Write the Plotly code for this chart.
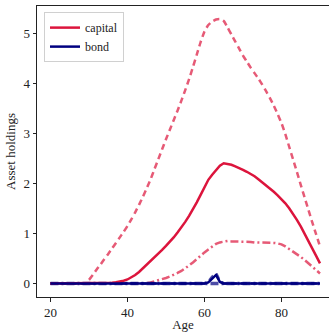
import plotly.graph_objects as go

ages = list(range(20, 91))

capital_median = [0.0]*13 + [  # 20-32
    0.0, 0.005, 0.01, 0.015, 0.025, 0.035, 0.055,              # 33-39
    0.08, 0.12, 0.17, 0.23, 0.30, 0.37, 0.44, 0.51, 0.59, 0.67,  # 40-49
    0.75, 0.83, 0.92, 1.02, 1.12, 1.23, 1.35, 1.48, 1.62, 1.77,  # 50-59
    1.93, 2.07, 2.17, 2.27, 2.35, 2.40, 2.39, 2.37, 2.34, 2.31,  # 60-69
    2.27, 2.23, 2.19, 2.14, 2.08, 2.02, 1.96, 1.90, 1.83, 1.76,  # 70-79
    1.69, 1.60, 1.50, 1.39, 1.27, 1.14, 1.00, 0.85, 0.70, 0.55,  # 80-89
    0.40]                                                        # 90

capital_upper = [0.0]*10 + [  # 20-29
    0.07, 0.17, 0.28, 0.38, 0.49, 0.59, 0.70, 0.81, 0.92, 1.03,  # 30-39
    1.15, 1.28, 1.42, 1.57, 1.73, 1.90, 2.08, 2.28, 2.48, 2.68,  # 40-49
    2.88, 3.07, 3.26, 3.45, 3.65, 3.86, 4.08, 4.32, 4.57, 4.82,  # 50-59
    5.03, 5.16, 5.23, 5.27, 5.28, 5.24, 5.11, 4.97, 4.83, 4.69,  # 60-69
    4.55, 4.43, 4.31, 4.20, 4.09, 3.97, 3.84, 3.70, 3.55, 3.38,  # 70-79
    3.20, 2.98, 2.73, 2.48, 2.23, 1.97, 1.72, 1.47, 1.22, 0.98,  # 80-89
    0.74]                                                        # 90

capital_lower = [0.0]*25 + [  # 20-44
    0.005, 0.02, 0.04, 0.06, 0.08,                               # 45-49
    0.11, 0.14, 0.17, 0.21, 0.25, 0.30, 0.36, 0.42, 0.49, 0.55,  # 50-59
    0.62, 0.68, 0.74, 0.79, 0.82, 0.84, 0.85, 0.84, 0.84, 0.84,  # 60-69
    0.83, 0.83, 0.83, 0.82, 0.82, 0.82, 0.82, 0.81, 0.81, 0.80,  # 70-79
    0.78, 0.74, 0.69, 0.64, 0.59, 0.53, 0.47, 0.40, 0.33, 0.26,  # 80-89
    0.20]                                                        # 90

bond_median = [0.0]*41 + [0.02, 0.1, 0.17, 0.03] + [0.0]*26
bond_upper = [0.0]*41 + [0.03, 0.13, 0.2, 0.04] + [0.0]*26
bond_lower = [0.0]*71

CAP = "#DC143C"
CAP_LIGHT = "rgba(220,20,60,0.7)"
BOND = "#000080"
BOND_LIGHT = "rgba(0,0,128,0.7)"

fig = go.Figure()
fig.add_trace(go.Scatter(x=ages, y=capital_upper, mode="lines", showlegend=False,
                         line=dict(color=CAP_LIGHT, width=2.5, dash="6px,4px", shape="spline", smoothing=0.6)))
fig.add_trace(go.Scatter(x=ages, y=capital_lower, mode="lines", showlegend=False,
                         line=dict(color=CAP_LIGHT, width=2.5, dash="8px,3px,2px,3px")))
fig.add_trace(go.Scatter(x=ages, y=bond_upper, mode="lines", showlegend=False,
                         line=dict(color=BOND_LIGHT, width=3, dash="6px,4px")))
fig.add_trace(go.Scatter(x=ages, y=bond_lower, mode="lines", showlegend=False,
                         line=dict(color=BOND_LIGHT, width=3.5, dash="8px,3px,2px,3px")))
fig.add_trace(go.Scatter(x=ages, y=capital_median, mode="lines", name="capital",
                         line=dict(color=CAP, width=2.5)))
fig.add_trace(go.Scatter(x=ages, y=bond_median, mode="lines", name="bond",
                         line=dict(color=BOND, width=2.5)))

FAM = "Liberation Serif, DejaVu Serif, serif"
font = dict(family=FAM, size=13, color="#222")

fig.update_layout(
    width=329, height=332,
    margin=dict(l=37, r=0, t=6, b=35, autoexpand=False),
    paper_bgcolor="white", plot_bgcolor="white",
    font=font,
    legend=dict(x=0.024, y=0.979, xanchor="left", yanchor="top",
                bgcolor="white", bordercolor="#d0d0d0", borderwidth=1,
                font=dict(family=FAM, size=12, color="#222"),
                itemwidth=30, tracegroupgap=0),
    xaxis=dict(range=[16.5, 92.34], tickvals=[20, 40, 60, 80], automargin=False,
               ticks="outside", ticklen=3.5, tickwidth=0.8, tickcolor="#222",
               showline=True, linecolor="#222", linewidth=1, mirror=True,
               showgrid=False, zeroline=False,
               title=dict(text="Age", standoff=2, font=dict(size=13))),
    yaxis=dict(range=[-0.27, 5.54], tickvals=[0, 1, 2, 3, 4, 5], automargin=False,
               ticks="outside", ticklen=3.5, tickwidth=0.8, tickcolor="#222",
               showline=True, linecolor="#222", linewidth=1, mirror=False,
               showgrid=False, zeroline=False,
               title=dict(text="Asset holdings", standoff=4, font=dict(size=13))),
)

fig.write_html("out.html", config={"displayModeBar": False},
               post_script="document.body.style.margin='0';document.body.style.overflow='hidden';")
